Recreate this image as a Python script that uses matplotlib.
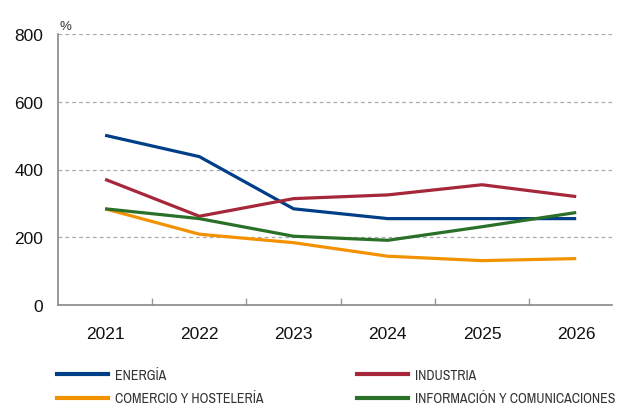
import matplotlib.pyplot as plt
from matplotlib.lines import Line2D
from matplotlib import font_manager
import numpy as np

years = ["2021", "2022", "2023", "2024", "2025", "2026"]
energia = [501, 438, 284, 255, 255, 255]
industria = [371, 262, 314, 325, 355, 320]
comercio = [284, 209, 184, 144, 131, 137]
informacion = [284, 255, 203, 191, 231, 273]

labels = ["ENERGÍA", "INDUSTRIA", "COMERCIO Y HOSTELERÍA", "INFORMACIÓN Y COMUNICACIONES"]
colors = ["#003f87", "#a6273a", "#f39200", "#2a7029"]

plt.rcParams["font.family"] = ["Liberation Sans", "DejaVu Sans"]

# narrow font for the legend if the system has one
narrow = None
for f in font_manager.fontManager.ttflist:
    if "Narrow" in f.name or "Condensed" in f.name:
        narrow = f.name
        break
if narrow:
    leg_font = {"family": [narrow, "DejaVu Sans"], "size": 10}
else:
    leg_font = {"family": ["Liberation Sans", "DejaVu Sans"], "size": 8.2}

fig = plt.figure(figsize=(6.21, 4.10), dpi=100)
ax = fig.add_axes([58/621, 1-306/410, (612-58)/621, (306-35)/410])

x = np.arange(len(years))
for vals, col in zip([energia, industria, comercio, informacion], colors):
    ax.plot(x, vals, color=col, lw=2.3, solid_capstyle="butt")

ax.set_ylim(0, 800)
ax.set_xlim(-0.5, 5.38)
ax.set_yticks([0, 200, 400, 600, 800])
ax.tick_params(axis="y", length=0, pad=10.5, labelsize=12.5, colors="#111111")
ax.set_xticks(x)
ax.set_xticklabels(years)
ax.tick_params(axis="x", length=0, pad=15, labelsize=12.5, colors="#111111")
ax.set_xticks(np.arange(0.5, 5, 1), minor=True)
ax.tick_params(axis="x", which="minor", direction="in", length=5, color="#999999", width=1)

for y in [200, 400, 600, 800]:
    ax.axhline(y, color="#aaaaaa", lw=0.9, ls=(0, (3, 2.5)), zorder=0)

for s in ["top", "right"]:
    ax.spines[s].set_visible(False)
for s in ["left", "bottom"]:
    ax.spines[s].set_color("#888888")
    ax.spines[s].set_linewidth(1.2)

fig.text(60/621, 1-27/410, "%", fontsize=9.5, color="#333333", va="center")

for col_idx, xpos in enumerate([57, 357]):
    hs = [Line2D([], [], color=colors[col_idx + 2*r], lw=3) for r in range(2)]
    ls = [labels[col_idx + 2*r] for r in range(2)]
    fig.legend(hs, ls, loc="upper left", bbox_to_anchor=(xpos/621, 1-369/410),
               frameon=False, prop=leg_font, handlelength=3.7, handletextpad=0.5,
               labelspacing=0.68, borderaxespad=0, borderpad=0, labelcolor="#333333")

fig.savefig("out.png", dpi=100)
